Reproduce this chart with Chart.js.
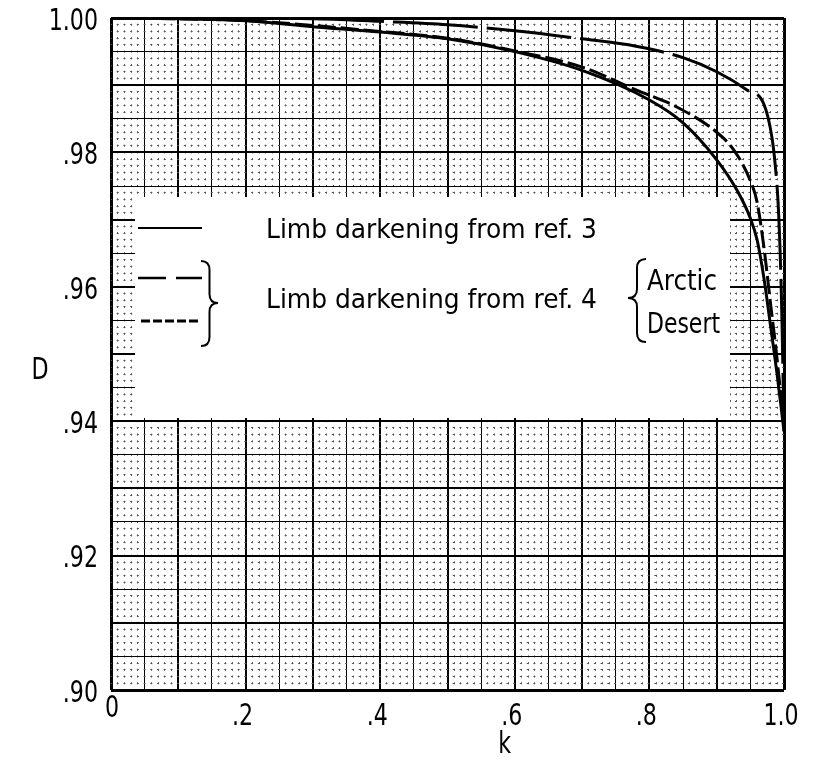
<!DOCTYPE html>
<html>
<head>
<meta charset="utf-8">
<script src="https://cdn.jsdelivr.net/npm/chart.js@4/dist/chart.umd.min.js"></script>
<style>
  html, body { margin: 0; padding: 0; background: #fff; }
  canvas { display: block; }
</style>
</head>
<body>
<canvas id="chart" width="817" height="761"></canvas>
<script>
// D versus k, limb darkening curves
const kRef3 = [0, 0.1, 0.2, 0.3, 0.4, 0.5, 0.6, 0.7, 0.8, 0.85, 0.9, 0.93, 0.95, 0.96, 0.97, 0.98, 0.99, 1.0];
const dRef3 = [1.0, 0.9999, 0.9996, 0.9987, 0.9979, 0.9969, 0.9950, 0.9922, 0.9878, 0.9844, 0.9789, 0.9744, 0.9702, 0.9670, 0.9614, 0.9542, 0.9468, 0.9385];

const kArctic = [0, 0.3, 0.4, 0.5, 0.6, 0.7, 0.78, 0.85, 0.9, 0.945, 0.97, 0.982, 0.987, 0.991, 0.994, 0.997, 1.0];
const dArctic = [1.0, 0.9999, 0.9995, 0.9990, 0.9981, 0.9969, 0.9958, 0.9941, 0.9920, 0.9893, 0.9872, 0.9823, 0.9781, 0.9729, 0.9659, 0.9550, 0.9385];

const kDesert = [0, 0.2, 0.4, 0.5, 0.6, 0.7, 0.78, 0.84, 0.9, 0.925, 0.95, 0.96, 0.97, 0.98, 0.99, 1.0];
const dDesert = [1.0, 0.9996, 0.9980, 0.9970, 0.9951, 0.9927, 0.9893, 0.9868, 0.9830, 0.9804, 0.9758, 0.9726, 0.9660, 0.9575, 0.9490, 0.9390];

// axis labels
const xTickValues = [0, 0.2, 0.4, 0.6, 0.8, 1.0];
const xTickLabels = ['0', '.2', '.4', '.6', '.8', '1.0'];
const yTickValues = [1.0, 0.98, 0.96, 0.94, 0.92, 0.90];
const yTickLabels = ['1.00', '.98', '.96', '.94', '.92', '.90'];

// graph paper: 100 divisions each way
const kGrid = Array.from({ length: 101 }, (_, i) => i / 100);
const dGrid = Array.from({ length: 101 }, (_, i) => (900 + i) / 1000);

const FONT = "'Liberation Sans Narrow', 'DejaVu Sans Condensed', 'Liberation Sans', sans-serif";

function toPoints(xs, ys) {
    return xs.map((x, i) => ({ x: x, y: ys[i] }));
}

function gridWidth(ctx) {
    const i = ctx.index;
    if (i === 0 || i === 100) return 3;
    if (i % 10 === 0) return 2;
    return 1;
}

function gridColor(ctx) {
    return ctx.index % 5 === 0 ? '#000' : '#555';
}

function gridDash(ctx) {
    return ctx.index % 5 === 0 ? [] : [2, 4.72];
}

// text squeezed/stretched to a given width
function fitText(ctx, text, x, y, width, align) {
    const w = ctx.measureText(text).width;
    drawScaled(ctx, text, x, y, width / w, align);
}

function drawScaled(ctx, text, x, y, sx, align) {
    ctx.save();
    ctx.translate(x, y);
    ctx.scale(sx, 1);
    ctx.textAlign = align || 'left';
    ctx.fillText(text, 0, 0);
    ctx.restore();
}

function brace(ctx, xl, xt, yt, yb, ym) {
    // xl = open side, xt = tip side
    const xm = (xl + xt) / 2;
    const r = 9;
    ctx.beginPath();
    ctx.moveTo(xl, yt);
    ctx.quadraticCurveTo(xm, yt, xm, yt + r);
    ctx.lineTo(xm, ym - r);
    ctx.quadraticCurveTo(xm, ym, xt, ym);
    ctx.quadraticCurveTo(xm, ym, xm, ym + r);
    ctx.lineTo(xm, yb - r);
    ctx.quadraticCurveTo(xm, yb, xl, yb);
    ctx.stroke();
}

const decor = {
    id: 'decor',
    beforeDatasetsDraw(chart) {
        const ctx = chart.ctx;
        ctx.save();
        // legend panel blanks the paper
        ctx.fillStyle = '#fff';
        ctx.fillRect(135, 197, 595, 221);

        ctx.strokeStyle = '#000';
        ctx.lineWidth = 2;
        ctx.beginPath(); ctx.moveTo(138, 228); ctx.lineTo(202, 228); ctx.stroke();

        ctx.lineWidth = 2.5;
        ctx.setLineDash([28, 10]);
        ctx.beginPath(); ctx.moveTo(138, 278); ctx.lineTo(202, 278); ctx.stroke();

        ctx.lineWidth = 3;
        ctx.setLineDash([9, 3]);
        ctx.beginPath(); ctx.moveTo(141, 321); ctx.lineTo(200, 321); ctx.stroke();
        ctx.setLineDash([]);

        ctx.lineWidth = 2;
        brace(ctx, 201, 218, 261, 346, 303);
        brace(ctx, 646, 628, 259, 342, 298);

        ctx.fillStyle = '#000';
        ctx.font = '27px ' + FONT;
        ctx.textBaseline = 'alphabetic';
        fitText(ctx, 'Limb darkening from ref. 3', 266, 238, 331);
        fitText(ctx, 'Limb darkening from ref. 4', 266, 308, 331);
        ctx.font = '28px ' + FONT;
        fitText(ctx, 'Arctic', 647, 290, 70);
        fitText(ctx, 'Desert', 647, 333, 73);
        ctx.restore();
    },
    afterDraw(chart) {
        const ctx = chart.ctx;
        const xs = chart.scales.x;
        const ys = chart.scales.y;
        const bottom = chart.chartArea.bottom;
        const left = chart.chartArea.left;
        const sx = 0.82;
        ctx.save();
        ctx.fillStyle = '#000';
        ctx.font = '30px ' + FONT;
        ctx.textBaseline = 'alphabetic';
        xTickValues.forEach((v, i) => {
            const px = xs.getPixelForValue(v);
            if (i === 0) {
                drawScaled(ctx, xTickLabels[i], px + 1, bottom + 27, sx, 'center');
            } else {
                drawScaled(ctx, xTickLabels[i], px - 3, bottom + 35, sx, 'center');
            }
        });
        ctx.textBaseline = 'middle';
        yTickValues.forEach((v, i) => {
            drawScaled(ctx, yTickLabels[i], left - 13, ys.getPixelForValue(v) + 4, sx, 'right');
        });
        drawScaled(ctx, 'k', xs.getPixelForValue(0.585), bottom + 55, sx, 'center');
        drawScaled(ctx, 'D', 40, ys.getPixelForValue(0.9475), sx, 'center');
        ctx.restore();
    }
};

const ctx = document.getElementById('chart').getContext('2d');
new Chart(ctx, {
    type: 'scatter',
    data: {
        datasets: [
            {
                label: 'Limb darkening from ref. 3',
                data: toPoints(kRef3, dRef3),
                borderColor: '#000',
                borderWidth: 3
            },
            {
                label: 'Arctic',
                data: toPoints(kArctic, dArctic),
                borderColor: '#000',
                borderWidth: 3,
                borderDash: [85, 9]
            },
            {
                label: 'Desert',
                data: toPoints(kDesert, dDesert),
                borderColor: '#000',
                borderWidth: 3,
                borderDash: [18, 5]
            }
        ]
    },
    options: {
        responsive: false,
        animation: false,
        devicePixelRatio: 1,
        layout: { padding: { left: 111, top: 18, right: 33, bottom: 71 } },
        elements: {
            point: { radius: 0, hoverRadius: 0 },
            line: { cubicInterpolationMode: 'monotone', fill: false }
        },
        datasets: { scatter: { showLine: true } },
        plugins: {
            legend: { display: false },
            tooltip: { enabled: false }
        },
        scales: {
            x: {
                type: 'linear',
                min: 0,
                max: 1,
                afterBuildTicks: (scale) => { scale.ticks = kGrid.map(v => ({ value: v })); },
                ticks: { display: false },
                grid: { color: gridColor, lineWidth: gridWidth, drawTicks: false },
                border: { display: false, dash: gridDash, dashOffset: 1 }
            },
            y: {
                type: 'linear',
                min: 0.9,
                max: 1.0,
                afterBuildTicks: (scale) => { scale.ticks = dGrid.map(v => ({ value: v })); },
                ticks: { display: false },
                grid: { color: gridColor, lineWidth: gridWidth, drawTicks: false },
                border: { display: false, dash: gridDash, dashOffset: 1 }
            }
        }
    },
    plugins: [decor]
});
</script>
</body>
</html>
